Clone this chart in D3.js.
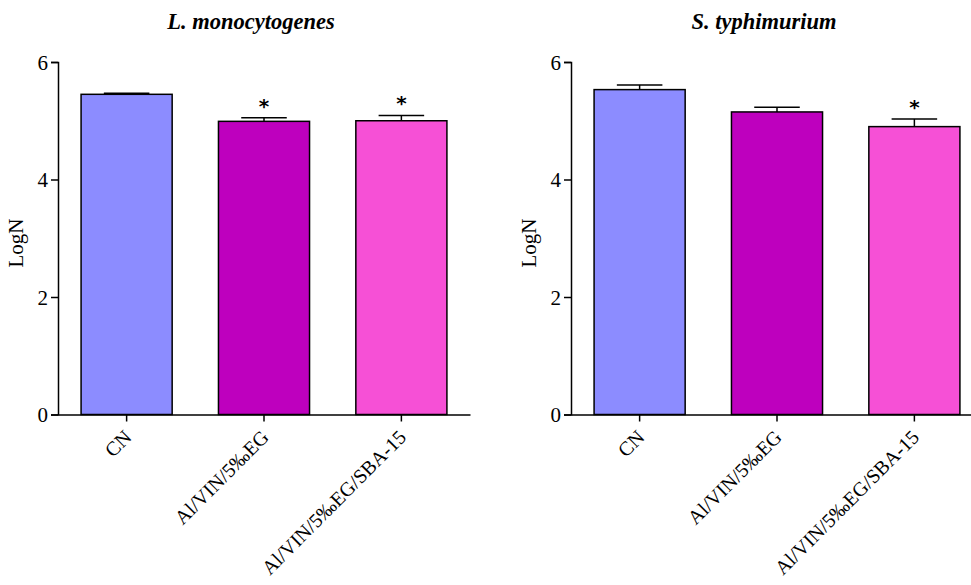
<!DOCTYPE html>
<html>
<head>
<meta charset="utf-8">
<script src="https://cdn.jsdelivr.net/npm/d3@7"></script>
<style>
  body { margin: 0; background: #fff; }
  svg { display: block; font-family: "Liberation Serif", "Times New Roman", serif; }
</style>
</head>
<body>
<svg id="chart" width="971" height="585"></svg>
<script>
const categories = ["CN", "Al/VIN/5‰EG", "Al/VIN/5‰EG/SBA-15"];
const colors = ["#8c8cff", "#be00be", "#f650d6"];
const yTicks = [0, 2, 4, 6];

// L. monocytogenes
const listeriaMean = [5.45, 4.99, 5.00];
const listeriaErr = [0.02, 0.06, 0.09];
const listeriaStar = [false, true, true];

// S. typhimurium
const salmonellaMean = [5.53, 5.15, 4.90];
const salmonellaErr = [0.08, 0.08, 0.13];
const salmonellaStar = [false, false, true];

const svg = d3.select("#chart");

function drawPanel(left, title, means, errs, stars) {
  const x = d3.scaleBand().domain(categories).range([left, left + 412]).paddingInner(0.337).paddingOuter(0.168);
  const y = d3.scaleLinear().domain([0, 6]).range([414.5, 62]);
  const g = svg.append("g");

  g.append("text")
    .attr("x", left + 206 - 13).attr("y", 29)
    .attr("text-anchor", "middle")
    .attr("font-size", 22.5).attr("font-weight", "bold").attr("font-style", "italic")
    .text(title);

  g.append("text")
    .attr("transform", `translate(${left - 35},${243}) rotate(-90)`)
    .attr("text-anchor", "middle")
    .attr("font-size", 21)
    .text("LogN");

  // bars
  g.selectAll("rect.bar")
    .data(means)
    .enter().append("rect")
    .attr("class", "bar")
    .attr("x", (d, i) => x(categories[i]))
    .attr("y", d => y(d))
    .attr("width", x.bandwidth())
    .attr("height", d => y(0) - y(d))
    .attr("fill", (d, i) => colors[i])
    .attr("stroke", "#000")
    .attr("stroke-width", 1.5);

  // error bars (upper only)
  const capW = x.bandwidth() / 2;
  means.forEach((m, i) => {
    const cx = x(categories[i]) + x.bandwidth() / 2;
    g.append("line")
      .attr("x1", cx).attr("x2", cx)
      .attr("y1", y(m)).attr("y2", y(m + errs[i]))
      .attr("stroke", "#000").attr("stroke-width", 1.5);
    g.append("line")
      .attr("x1", cx - capW / 2).attr("x2", cx + capW / 2)
      .attr("y1", y(m + errs[i])).attr("y2", y(m + errs[i]))
      .attr("stroke", "#000").attr("stroke-width", 1.5);
    if (stars[i]) {
      g.append("text")
        .attr("x", cx).attr("y", y(m + errs[i]) - 5)
        .attr("text-anchor", "middle")
        .attr("font-size", 20)
        .attr("font-weight", "bold")
        .attr("font-family", "DejaVu Sans, sans-serif")
        .text("*");
    }
  });

  // y axis
  const yAxis = g.append("g")
    .attr("transform", `translate(${left},0)`)
    .call(d3.axisLeft(y).tickValues(yTicks).tickSize(7).tickPadding(3).tickFormat(d3.format("d")));
  yAxis.select(".domain").attr("stroke-width", 1.5);
  yAxis.selectAll(".tick line").attr("stroke-width", 1.5);
  yAxis.selectAll("text").attr("font-size", 21).attr("font-family", "Liberation Serif, serif").attr("dy", "0.35em");

  // x axis
  const xAxis = g.append("g")
    .attr("transform", `translate(0,${y(0)})`)
    .call(d3.axisBottom(x).tickSize(7).tickSizeOuter(0));
  xAxis.select(".domain").attr("stroke-width", 1.5);
  xAxis.selectAll(".tick line").attr("stroke-width", 1.5);
  xAxis.selectAll("text")
    .attr("font-size", 20)
    .attr("font-family", "Liberation Serif, serif")
    .attr("text-anchor", "end")
    .attr("dy", null).attr("y", null)
    .attr("transform", "translate(6,24) rotate(-45)");
}

drawPanel(58, "L. monocytogenes", listeriaMean, listeriaErr, listeriaStar);
drawPanel(571, "S. typhimurium", salmonellaMean, salmonellaErr, salmonellaStar);
</script>
</body>
</html>
